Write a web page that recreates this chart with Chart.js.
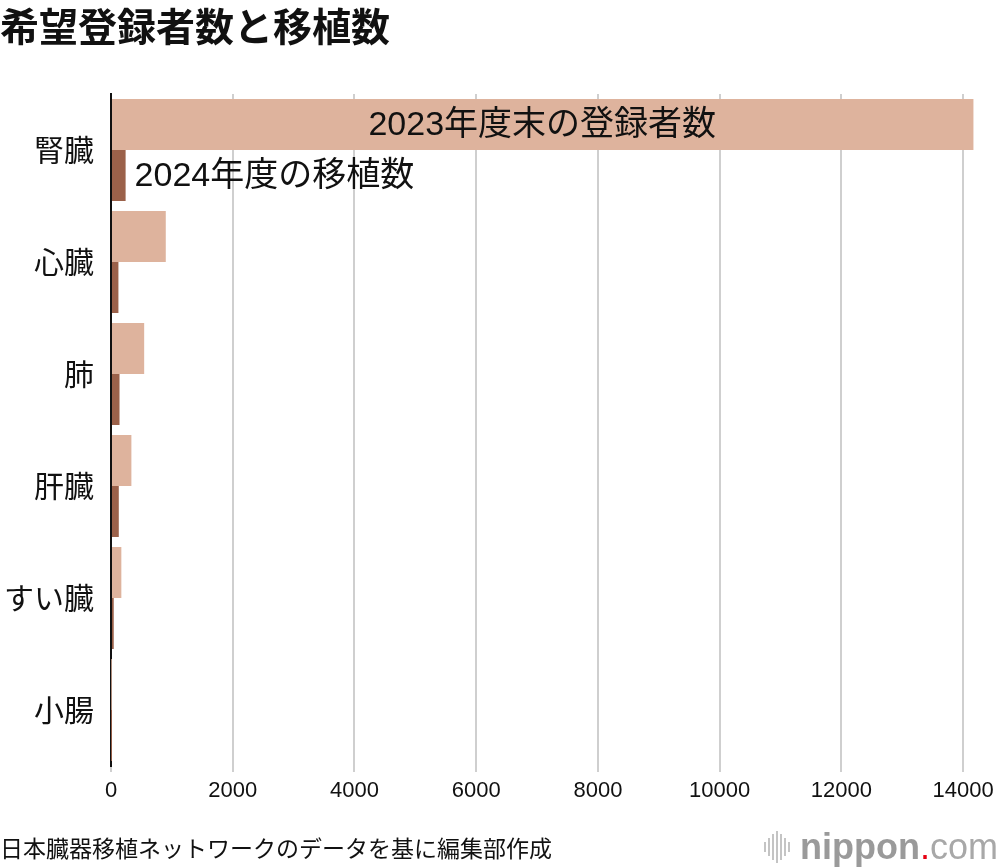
<!DOCTYPE html>
<html>
<head>
<meta charset="utf-8">
<title>希望登録者数と移植数</title>
<script src="https://cdn.jsdelivr.net/npm/chart.js"></script>
<style>
  html, body { margin: 0; padding: 0; background: #fff; }
  body { width: 1000px; height: 868px; position: relative; overflow: hidden;
         font-family: "Liberation Sans", "Noto Sans CJK JP", sans-serif; }
  #title { position: absolute; left: 0; top: -4px; font-size: 39px; font-weight: bold;
           font-family: "Noto Sans CJK JP", sans-serif; color: #111; letter-spacing: 0; }
  #wrap { position: absolute; left: 0; top: 0; width: 1000px; height: 868px; }
  #source { position: absolute; left: 0; top: 830px; font-size: 23px; color: #111;
            font-family: "Noto Sans CJK JP", sans-serif; }
  #logo { position: absolute; right: 2px; top: 826px; font-size: 36px; color: #9a9a9a;
          font-family: "Liberation Sans", sans-serif; display: flex; align-items: center; }
  #logo .bars { display: flex; align-items: center; margin-right: 8px; }
  #logo .bars i { display: block; width: 2px; background: #c4c4c4; margin-right: 2px; }
  #logo .dot { color: #e60012; }
  #logo .com { font-weight: normal; color: #a8a8a8; }
</style>
</head>
<body>
<div id="wrap"><canvas id="grafico" width="1000" height="868"></canvas></div>
<div id="title">希望登録者数と移植数</div>
<div id="source">日本臓器移植ネットワークのデータを基に編集部作成</div>
<div id="logo">
  <span class="bars"><i style="height:10px"></i><i style="height:18px"></i><i style="height:26px"></i><i style="height:32px"></i><i style="height:26px"></i><i style="height:18px"></i><i style="height:10px"></i></span>
  <span style="font-weight:bold">nippon</span><span class="dot">.</span><span class="com">com</span>
</div>

<script>
  // データ
  const organs = ["腎臓", "心臓", "肺", "肝臓", "すい臓", "小腸"];
  const registered2023 = [14170, 900, 545, 335, 170, 4];
  const transplants2024 = [240, 122, 140, 128, 45, 1];
  const xTicks = [0, 2000, 4000, 6000, 8000, 10000, 12000, 14000];

  const colorRegistered = "#deb39d";
  const colorTransplant = "#9b614a";

  const labelsPlugin = {
    id: "barLabels",
    afterDatasetsDraw(chart) {
      const ctx = chart.ctx;
      const x = chart.scales.x;
      const regBar = chart.getDatasetMeta(0).data[0];
      const trBar = chart.getDatasetMeta(1).data[0];
      ctx.save();
      ctx.fillStyle = "#111";
      ctx.font = '34px "Liberation Sans", "Noto Sans CJK JP", sans-serif';
      ctx.textBaseline = "middle";
      ctx.textAlign = "center";
      ctx.fillText("2023年度末の登録者数", (x.getPixelForValue(0) + regBar.x) / 2, regBar.y + 1);
      ctx.textAlign = "left";
      ctx.fillText("2024年度の移植数", trBar.x + 9, trBar.y + 1);
      ctx.restore();
    }
  };

  const ctx = document.getElementById("grafico").getContext("2d");
  new Chart(ctx, {
    type: "bar",
    data: {
      labels: organs,
      datasets: [
        { label: "2023年度末の登録者数", data: registered2023, backgroundColor: colorRegistered,
          barPercentage: 1, categoryPercentage: 0.91 },
        { label: "2024年度の移植数", data: transplants2024, backgroundColor: colorTransplant,
          barPercentage: 1, categoryPercentage: 0.91 }
      ]
    },
    options: {
      indexAxis: "y",
      responsive: false,
      animation: false,
      layout: { padding: { top: 94, right: 23, bottom: 62, left: 0 } },
      plugins: { legend: { display: false }, tooltip: { enabled: false } },
      scales: {
        x: {
          min: 0, max: 14200,
          afterBuildTicks: s => { s.ticks = xTicks.map(v => ({ value: v })); },
          afterFit: s => { s.height = 40; },
          grid: { color: "#cfcfcf", lineWidth: 2, tickLength: 6, drawTicks: true },
          border: { display: false },
          ticks: { color: "#111", font: { size: 22, family: '"Liberation Sans", sans-serif' }, padding: 6,
                   callback: v => String(v) }
        },
        y: {
          afterFit: s => { s.width = 111; },
          grid: { display: false, drawTicks: false },
          border: { display: true, color: "#111", width: 2 },
          ticks: { color: "#111", font: { size: 30, family: '"Noto Sans CJK JP", sans-serif' }, padding: 17 }
        }
      }
    },
    plugins: [labelsPlugin]
  });
</script>
</body>
</html>
